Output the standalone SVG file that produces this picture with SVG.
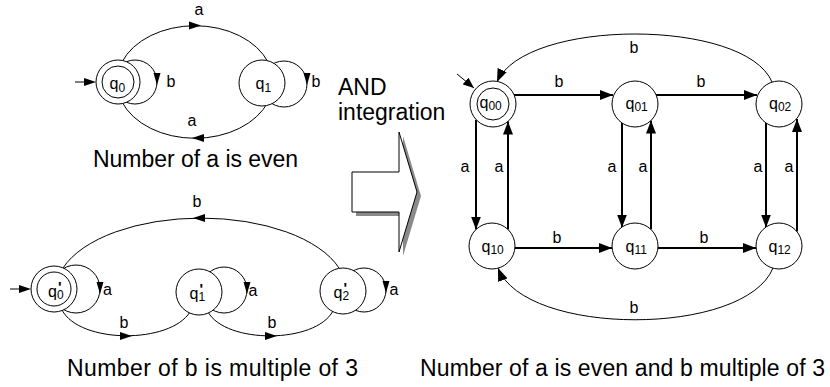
<svg xmlns="http://www.w3.org/2000/svg" xmlns:xlink="http://www.w3.org/1999/xlink" width="830" height="387" viewBox="0 0 830 387">
<style>
  text { font-family: "Liberation Sans", Arial, sans-serif; fill: #000; }
  .big { font-size: 23px; }
  .lbl { font-size: 16px; text-anchor: middle; }
  .q { font-size: 16px; }
  .sub { font-size: 12px; }
  .pr { font-size: 15px; font-weight: bold; }
  .n { fill: #fff; stroke: #000; stroke-width: 1; }
  .e { fill: none; stroke: #000; stroke-width: 1; }
  .e2 { fill: none; stroke: #000; stroke-width: 2; }
  .ah { fill: #000; stroke: none; }
</style>
<defs>
  <marker id="arr" markerUnits="userSpaceOnUse" markerWidth="14" markerHeight="10" refX="13" refY="5" orient="auto">
    <path d="M0,0 L13,5 L0,10 z" fill="#000"/>
  </marker>
  <marker id="arrs" markerUnits="userSpaceOnUse" markerWidth="12" markerHeight="9" refX="11" refY="4.5" orient="auto">
    <path d="M0,0 L11,4.5 L0,9 z" fill="#000"/>
  </marker>
</defs>
<rect width="830" height="387" fill="#fff"/>

<!-- connectors -->
<g id="connectors">
  <!-- top-left automaton -->
  <path class="e" d="M122,62 A78,56 0 0 1 268,62"/>
  <polygon class="ah" points="189,21.5 201,25.5 189,29.5"/>
  <path class="e" d="M122,102 A78,56 0 0 0 268,102"/>
  <polygon class="ah" points="204,134 192,138 204,142"/>
  <circle class="e" cx="135" cy="82" r="22"/>
  <polygon class="ah" points="153.5,73 160.5,73 157,85"/>
  <circle class="e" cx="284" cy="84" r="23"/>
  <polygon class="ah" points="303.5,73 310.5,73 307,85"/>
  <line class="e" x1="75" y1="82" x2="86" y2="82" stroke-width="2"/>
  <polygon class="ah" points="84,78 96,82 84,86"/>
  <text class="lbl" x="199" y="15">a</text>
  <text class="lbl" x="192" y="126">a</text>
  <text class="lbl" x="171" y="87">b</text>
  <text class="lbl" x="316" y="87">b</text>

  <!-- bottom-left automaton -->
  <path class="e" d="M63,268 A145,72 0 0 1 339,268"/>
  <polygon class="ah" points="205,214 193,218 205,222"/>
  <path class="e" d="M62,310 C80,344 170,344 190,312"/>
  <polygon class="ah" points="120,332 132,336 120,340"/>
  <path class="e" d="M208,312 C226,344 315,344 333,311"/>
  <polygon class="ah" points="265,332 277,336 265,340"/>
  <circle class="e" cx="76" cy="289" r="24"/>
  <polygon class="ah" points="96.5,282 103.5,282 100,294"/>
  <circle class="e" cx="224" cy="290" r="23"/>
  <polygon class="ah" points="243.5,282 250.5,282 247,294"/>
  <circle class="e" cx="364" cy="290" r="22"/>
  <polygon class="ah" points="382.5,281 389.5,281 386,293"/>
  <line class="e" x1="10" y1="289" x2="22" y2="289" stroke-width="2"/>
  <polygon class="ah" points="19,285 31,289 19,293"/>
  <text class="lbl" x="197" y="207">b</text>
  <text class="lbl" x="124" y="328">b</text>
  <text class="lbl" x="272" y="328">b</text>
  <text class="lbl" x="107.5" y="295">a</text>
  <text class="lbl" x="253" y="296">a</text>
  <text class="lbl" x="394" y="295">a</text>

  <!-- right automaton -->
  <line class="e2" x1="514" y1="95" x2="613" y2="95" marker-end="url(#arr)"/>
  <line class="e2" x1="656" y1="95" x2="757" y2="95" marker-end="url(#arr)"/>
  <line class="e2" x1="515" y1="248" x2="612" y2="248" marker-end="url(#arr)"/>
  <line class="e2" x1="658" y1="248" x2="756" y2="248" marker-end="url(#arr)"/>
  <line class="e2" x1="476" y1="120" x2="476" y2="229.5" marker-end="url(#arr)"/>
  <line class="e2" x1="508" y1="229.5" x2="508" y2="121.5" marker-end="url(#arr)"/>
  <line class="e2" x1="622" y1="123" x2="622" y2="227.5" marker-end="url(#arr)"/>
  <line class="e2" x1="651" y1="229.5" x2="651" y2="120.5" marker-end="url(#arr)"/>
  <line class="e2" x1="766" y1="123" x2="766" y2="227.5" marker-end="url(#arr)"/>
  <line class="e2" x1="797" y1="231.5" x2="797" y2="119" marker-end="url(#arr)"/>
  <path class="e" d="M772,82 C745,18 525,18 497,82" marker-end="url(#arr)"/>
  <path class="e" d="M773,268 C745,337 525,337 498,268" marker-end="url(#arr)"/>
  <line class="e" x1="457" y1="74" x2="474" y2="88" stroke-width="1.5" marker-end="url(#arrs)"/>
  <text class="lbl" x="559" y="87">b</text>
  <text class="lbl" x="701" y="87">b</text>
  <text class="lbl" x="557" y="243">b</text>
  <text class="lbl" x="704" y="243">b</text>
  <text class="lbl" x="634" y="53">b</text>
  <text class="lbl" x="634" y="313">b</text>
  <text class="lbl" x="465" y="172">a</text>
  <text class="lbl" x="499" y="172">a</text>
  <text class="lbl" x="612" y="172">a</text>
  <text class="lbl" x="643" y="172">a</text>
  <text class="lbl" x="758" y="172">a</text>
  <text class="lbl" x="789" y="172">a</text>
</g>

<!-- top-left nodes -->
<g id="q0">
  <circle class="n" cx="118" cy="82" r="22"/>
  <circle class="n" cx="118" cy="82" r="16"/>
  <text class="q" x="109.5" y="89">q<tspan class="sub" dy="3">0</tspan></text>
</g>
<g id="q1">
  <circle class="n" cx="262" cy="83" r="23"/>
  <text class="q" x="255.5" y="89">q<tspan class="sub" dy="3">1</tspan></text>
</g>

<!-- bottom-left nodes -->
<g id="q0p">
  <circle class="n" cx="54" cy="289" r="23"/>
  <circle class="n" cx="54" cy="289" r="17"/>
  <text class="q" x="48" y="297">q<tspan class="pr" x="58" dy="-5">'</tspan><tspan class="sub" x="57" dy="7">0</tspan></text>
</g>
<g id="q1p">
  <circle class="n" cx="199" cy="292" r="23"/>
  <text class="q" x="189.5" y="299">q<tspan class="pr" x="199.5" dy="-5">'</tspan><tspan class="sub" x="198.5" dy="7">1</tspan></text>
</g>
<g id="q2p">
  <circle class="n" cx="343" cy="291" r="23"/>
  <text class="q" x="333.5" y="298">q<tspan class="pr" x="343.5" dy="-5">'</tspan><tspan class="sub" x="342.5" dy="7">2</tspan></text>
</g>

<!-- right nodes -->
<g id="q00">
  <circle class="n" cx="493" cy="104" r="23"/>
  <circle class="n" cx="493" cy="104" r="16"/>
  <text class="q" x="479.5" y="108">q<tspan class="sub" dy="2">00</tspan></text>
</g>
<g id="q01">
  <circle class="n" cx="635" cy="104" r="23"/>
  <text class="q" x="625.5" y="109">q<tspan class="sub" dy="2">01</tspan></text>
</g>
<g id="q02">
  <circle class="n" cx="779" cy="104" r="23"/>
  <text class="q" x="769" y="109">q<tspan class="sub" dy="2">02</tspan></text>
</g>
<g id="q10">
  <circle class="n" cx="492" cy="246" r="23"/>
  <text class="q" x="481.5" y="252">q<tspan class="sub" dy="2">10</tspan></text>
</g>
<g id="q11">
  <circle class="n" cx="635" cy="246" r="23"/>
  <text class="q" x="625.5" y="252">q<tspan class="sub" dy="2">11</tspan></text>
</g>
<g id="q12">
  <circle class="n" cx="779" cy="246" r="23"/>
  <text class="q" x="768.5" y="252">q<tspan class="sub" dy="2">12</tspan></text>
</g>

<!-- AND integration block arrow -->
<g id="and-arrow">
  <polygon points="356,176 403,176 403,136 421,196 403,256 403,216 356,216" fill="#8a8a8a"/>
  <polygon points="352,172 399,172 399,132 417,192 399,252 399,212 352,212" fill="#fff" stroke="#000" stroke-width="1"/>
  <text class="big" x="338" y="95">AND</text>
  <text class="big" x="338" y="120">integration</text>
</g>

<!-- captions -->
<text class="big" x="93" y="167" textLength="205">Number of a is even</text>
<text class="big" x="67" y="376" textLength="291">Number of b is multiple of 3</text>
<text class="big" x="420" y="376" textLength="405">Number of a is even and b multiple of 3</text>
</svg>
